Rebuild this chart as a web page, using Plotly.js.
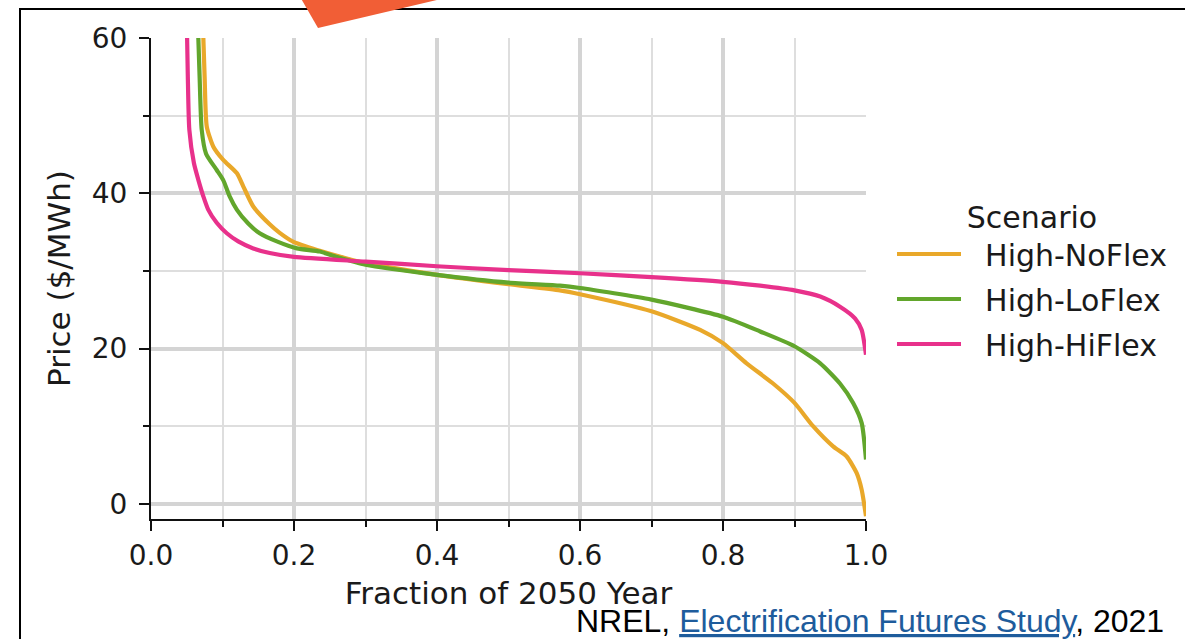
<!DOCTYPE html>
<html>
<head>
<meta charset="utf-8">
<script src="https://cdn.plot.ly/plotly-3.0.1.min.js"></script>
<style>
  html, body { margin: 0; padding: 0; background: #ffffff; }
  #chart { width: 1185px; height: 639px; }
</style>
</head>
<body>
<div id="chart"></div>
<script>
// ---- data (fraction of year vs price, $/MWh) ----
const seriesNames = ["High-NoFlex", "High-LoFlex", "High-HiFlex"];
const seriesColors = ["#E9A82A", "#62A62C", "#E8318B"];

const noFlexX = [0.0732, 0.075, 0.078, 0.0872, 0.101, 0.120, 0.129, 0.143, 0.166, 0.18, 0.20, 0.236, 0.27, 0.30, 0.40, 0.50, 0.572, 0.60, 0.70, 0.768, 0.80, 0.833, 0.87, 0.90, 0.926, 0.954, 0.973, 0.987, 0.994, 1.0];
const noFlexY = [60, 55, 48.6, 46.0, 44.3, 42.6, 40.9, 38.3, 36.0, 34.9, 33.7, 32.6, 31.7, 31.0, 29.5, 28.3, 27.5, 27.0, 24.8, 22.4, 20.7, 18.1, 15.5, 13.0, 10.0, 7.4, 6.1, 3.95, 1.8, -1.6];

const loFlexX = [0.0662, 0.068, 0.0709, 0.077, 0.0919, 0.101, 0.110, 0.120, 0.136, 0.152, 0.176, 0.204, 0.236, 0.26, 0.30, 0.40, 0.50, 0.572, 0.60, 0.70, 0.80, 0.852, 0.90, 0.936, 0.9636, 0.982, 0.994, 1.0];
const loFlexY = [60, 55, 48.2, 45.1, 43.0, 41.7, 39.6, 37.9, 36.1, 34.85, 33.8, 32.9, 32.5, 31.8, 30.8, 29.5, 28.5, 28.1, 27.8, 26.3, 24.1, 22.2, 20.3, 18.1, 15.5, 13.0, 10.4, 5.7];

const hiFlexX = [0.0505, 0.0515, 0.0536, 0.060, 0.066, 0.0732, 0.080, 0.0919, 0.106, 0.122, 0.143, 0.166, 0.20, 0.30, 0.40, 0.50, 0.60, 0.70, 0.80, 0.852, 0.90, 0.936, 0.9636, 0.9846, 0.994, 1.0];
const hiFlexY = [60, 55, 48.2, 43.9, 41.8, 39.6, 37.9, 36.2, 34.85, 33.8, 32.9, 32.3, 31.8, 31.2, 30.6, 30.1, 29.7, 29.2, 28.6, 28.1, 27.5, 26.7, 25.4, 23.9, 22.4, 19.2];

const xTickVals = [0.0, 0.2, 0.4, 0.6, 0.8, 1.0];
const xTickText = ["0.0", "0.2", "0.4", "0.6", "0.8", "1.0"];
const yTickVals = [0, 20, 40, 60];
const yTickText = ["0", "20", "40", "60"];

const xTitle = "Fraction of 2050 Year";
const yTitle = "Price ($/MWh)";
const legendTitle = "Scenario";
const sourceText = 'NREL, <a href="https://www.nrel.gov/analysis/electrification-futures.html" style="color:#1E5C9C"><u>Electrification Futures Study</u></a>, 2021';

// ---- figure ----
const FONT = "DejaVu Sans, sans-serif";
const xs = [noFlexX, loFlexX, hiFlexX];
const ys = [noFlexY, loFlexY, hiFlexY];

const traces = seriesNames.map((name, i) => ({
  type: "scatter",
  mode: "lines",
  name: "\u00a0\u00a0" + name,
  legendgroup: name,
  x: xs[i],
  y: ys[i],
  line: { color: seriesColors[i], width: 4.2, shape: "spline", smoothing: 0.6 },
  hovertemplate: name + ": %{x:.3f}, %{y:.1f}<extra></extra>"
}));

// geometry helpers (plot area: x 151..866 px, y 38..519 px)
const L = 151, R = 866, T = 38, B = 519;
const px = v => (v - L) / (R - L);
const py = v => (B - v) / (B - T);

const layout = {
  width: 1185,
  height: 639,
  margin: { l: L, r: 1185 - R, t: T, b: 639 - B, pad: 0 },
  paper_bgcolor: "#ffffff",
  plot_bgcolor: "#ffffff",
  font: { family: FONT, size: 28, color: "#1a1a1a" },
  showlegend: true,
  legend: {
    x: px(892), y: py(189), xanchor: "left", yanchor: "top",
    bgcolor: "rgba(0,0,0,0)",
    font: { family: FONT, size: 30, color: "#1a1a1a" },
    title: { text: legendTitle, side: "top center", font: { family: FONT, size: 30, color: "#1a1a1a" } },
    tracegroupgap: 3,
    itemwidth: 64
  },
  xaxis: {
    range: [0, 1],
    tickvals: xTickVals,
    ticktext: xTickText,
    ticks: "outside", ticklen: 10, tickwidth: 2, tickcolor: "#111",
    showline: true, linecolor: "#111", linewidth: 2, mirror: false,
    showgrid: true, gridcolor: "#d4d4d4", gridwidth: 3.5,
    zeroline: false,
    minor: { dtick: 0.1, ticks: "outside", ticklen: 6, tickwidth: 1.5, tickcolor: "#111", showgrid: true, gridcolor: "#dedede", gridwidth: 2 },
    tickfont: { family: FONT, size: 28, color: "#1a1a1a" },
    title: { text: xTitle, standoff: 12, font: { family: FONT, size: 31, color: "#1a1a1a" } },
    fixedrange: true
  },
  yaxis: {
    range: [-1.95, 60],
    tickvals: yTickVals,
    ticktext: yTickText,
    ticks: "outside", ticklen: 10, tickwidth: 2, tickcolor: "#111",
    showline: true, linecolor: "#111", linewidth: 2, mirror: false,
    showgrid: true, gridcolor: "#d4d4d4", gridwidth: 3.5,
    zeroline: false,
    minor: { dtick: 10, ticks: "outside", ticklen: 6, tickwidth: 1.5, tickcolor: "#111", showgrid: true, gridcolor: "#dedede", gridwidth: 2 },
    tickfont: { family: FONT, size: 28, color: "#1a1a1a" },
    ticklabelstandoff: 6,
    title: { text: yTitle, standoff: 12, font: { family: FONT, size: 31, color: "#1a1a1a" } },
    fixedrange: true
  },
  shapes: [
    // slide frame lines
    { type: "path", xref: "paper", yref: "paper",
      path: `M ${px(20)},${py(650)} L ${px(20)},${py(9)} L ${px(1200)},${py(9)}`,
      line: { color: "#000", width: 2 }, layer: "above" },
    // orange arrow fragment at the top
    { type: "path", xref: "paper", yref: "paper",
      path: `M ${px(299)},${py(-5)} L ${px(318)},${py(28)} L ${px(458)},${py(-5)} Z`,
      fillcolor: "#F15E36", line: { width: 0 }, layer: "above" }
  ],
  annotations: [
    { xref: "paper", yref: "paper", x: px(1166), y: py(621), xanchor: "right", yanchor: "middle",
      text: sourceText, showarrow: false,
      font: { family: "Liberation Sans, Arial, sans-serif", size: 32, color: "#000" } }
  ]
};

Plotly.newPlot("chart", traces, layout, { displayModeBar: false, responsive: false });
</script>
</body>
</html>
